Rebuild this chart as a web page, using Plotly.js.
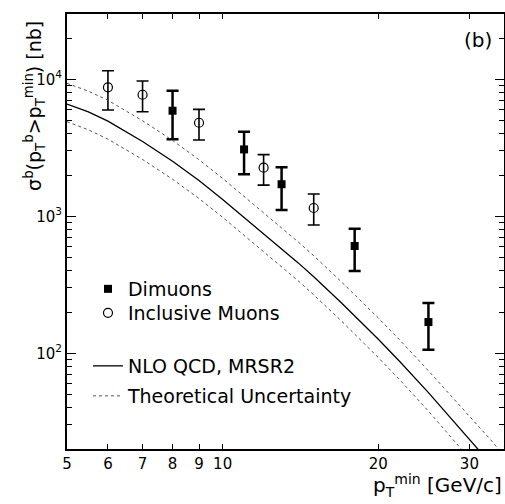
<!DOCTYPE html>
<html>
<head>
<meta charset="utf-8">
<script src="https://cdn.plot.ly/plotly-3.0.1.min.js"></script>
<style>html,body{margin:0;padding:0;background:#fff;}#chart{width:505px;height:504px;}</style>
</head>
<body>
<div id="chart"></div>
<script>
// Dimuons (filled squares)
const dimuX = [8, 11, 13, 18, 25];
const dimuY = [5900, 3080, 1715, 607, 169];
const dimuUp = [8260, 4150, 2280, 812, 233];
const dimuLo = [3650, 2030, 1110, 399, 106];

// Inclusive muons (open circles)
const inclX = [6, 7, 9, 12, 15];
const inclY = [8750, 7720, 4820, 2265, 1150];
const inclUp = [11560, 9720, 6040, 2820, 1455];
const inclLo = [5970, 5800, 3610, 1690, 865];

// NLO QCD prediction and uncertainty band
const theoX = [5, 5.5, 6, 7, 8, 9, 10, 11, 12, 13, 14, 15, 17, 20, 22, 25, 28, 30, 33, 35];
const nlo = [6600, 5780, 4950, 3515, 2520, 1823, 1328, 982, 753, 584, 457, 362, 232, 126.5, 87, 51.6, 31.8, 24, 15.8, 12.1];
const nloUpper = [9350, 8200, 7030, 4990, 3580, 2590, 1890, 1395, 1070, 830, 650, 515, 330, 181, 125, 74.5, 46.3, 35.2, 23.3, 17.9];
const nloLower = [4910, 4280, 3660, 2600, 1865, 1350, 983, 726, 557, 432, 338, 267, 171, 93, 64, 37.8, 23.1, 17.4, 11.4, 8.7];

const xTickVals = [5, 6, 7, 8, 9, 10, 20, 30];
const xTickText = ['5', '6', '7', '8', '9', '10', '20', '30'];
const xLongTicks = [10, 20, 30];
const yTickVals = [100, 1000, 10000];
const yTickText = ['10<sup>2</sup>', '10<sup>3</sup>', '10<sup>4</sup>'];

const FONT = 'DejaVu Sans, sans-serif';
const plus = (v, u) => v.map((y, i) => u[i] - y);
const minus = (v, l) => v.map((y, i) => y - l[i]);

const yMinor = [];
[10, 100, 1000, 10000].forEach(d => { for (let k = 2; k <= 9; k++) { const v = k * d; if (v >= 20 && v <= 30000) yMinor.push(v); } });

const traces = [
  {x: dimuX, y: dimuY, type: 'scatter', mode: 'markers', name: 'Dimuons', legend: 'legend',
   marker: {symbol: 'square', size: 8, color: '#000'},
   error_y: {type: 'data', symmetric: false, array: plus(dimuY, dimuUp), arrayminus: minus(dimuY, dimuLo),
             color: '#000', thickness: 2.5, width: 6}},
  {x: inclX, y: inclY, type: 'scatter', mode: 'markers', name: 'Inclusive Muons', legend: 'legend2',
   marker: {symbol: 'circle-open', size: 9, color: '#000', line: {width: 1.2, color: '#000'}},
   error_y: {type: 'data', symmetric: false, array: plus(inclY, inclUp), arrayminus: minus(inclY, inclLo),
             color: '#000', thickness: 1.6, width: 6}},
  {x: theoX, y: nlo, type: 'scatter', mode: 'lines', name: 'NLO QCD, MRSR2', legend: 'legend3',
   line: {color: '#000', width: 1.3}},
  {x: theoX, y: nloUpper, type: 'scatter', mode: 'lines', name: 'Theoretical Uncertainty', legend: 'legend4',
   line: {color: '#555', width: 1, dash: 'dot'}},
  {x: theoX, y: nloLower, type: 'scatter', mode: 'lines', name: 'Theoretical Uncertainty (lower)', legend: 'legend4',
   showlegend: false, line: {color: '#555', width: 1, dash: 'dot'}}
];

function leg(y) {
  return {x: 0.048, y: y, xanchor: 'left', yanchor: 'top',
          bgcolor: 'rgba(0,0,0,0)', borderwidth: 0,
          font: {family: FONT, size: 19, color: '#000'}, itemwidth: 30};
}

const xRange = [Math.log10(5), Math.log10(35)];

const layout = {
  width: 505, height: 504,
  margin: {l: 67, r: 1, t: 14, b: 55},
  paper_bgcolor: '#fff', plot_bgcolor: '#fff',
  font: {family: FONT, size: 15, color: '#000'},
  showlegend: true,
  xaxis: {
    type: 'log', range: xRange,
    tickmode: 'array', tickvals: xTickVals, ticktext: xTickText,
    ticks: 'inside', ticklen: 5, tickwidth: 1, tickcolor: '#000',
    showline: true, linecolor: '#000', linewidth: 2, mirror: 'allticks',
    showgrid: false, zeroline: false,
    tickfont: {family: FONT, size: 15, color: '#000'}
  },
  xaxis2: {
    type: 'log', range: xRange, overlaying: 'x', anchor: 'y', side: 'bottom',
    tickmode: 'array', tickvals: xLongTicks, showticklabels: false,
    ticks: 'inside', ticklen: 9, tickwidth: 1, tickcolor: '#000',
    showline: false, mirror: 'allticks', showgrid: false, zeroline: false
  },
  yaxis: {
    type: 'log', range: [Math.log10(20), Math.log10(30000)],
    tickmode: 'array', tickvals: yTickVals, ticktext: yTickText,
    ticks: 'inside', ticklen: 9, tickwidth: 1, tickcolor: '#000',
    minor: {tickmode: 'array', tickvals: yMinor, ticks: 'inside', ticklen: 5, tickcolor: '#000', showgrid: false},
    showline: true, linecolor: '#000', linewidth: 2, mirror: 'allticks',
    showgrid: false, zeroline: false,
    tickfont: {family: FONT, size: 15, color: '#000'}
  },
  legend: leg(0.4115),
  legend2: leg(0.3563),
  legend3: leg(0.2345),
  legend4: leg(0.1655),
  annotations: [
    {text: '(b)', xref: 'paper', yref: 'paper', x: 0.94, y: 0.94, xanchor: 'center', yanchor: 'middle',
     showarrow: false, font: {family: FONT, size: 20, color: '#000'}},
    {text: 'σ<sup>b</sup>(p<sub>T</sub><sup>b</sup>>p<sub>T</sub><sup>min</sup>) [nb]',
     xref: 'paper', yref: 'paper', x: -0.073, y: 0.789, xanchor: 'center', yanchor: 'middle',
     textangle: -90, showarrow: false, font: {family: FONT, size: 19, color: '#000'}},
    {text: 'p<sub>T</sub><sup>min</sup> [GeV/c]',
     xref: 'paper', yref: 'paper', x: 1.0, y: -0.085, xanchor: 'right', yanchor: 'middle',
     showarrow: false, font: {family: FONT, size: 20, color: '#000'}}
  ]
};

Plotly.newPlot('chart', traces, layout, {displayModeBar: false, staticPlot: true});
</script>
</body>
</html>
